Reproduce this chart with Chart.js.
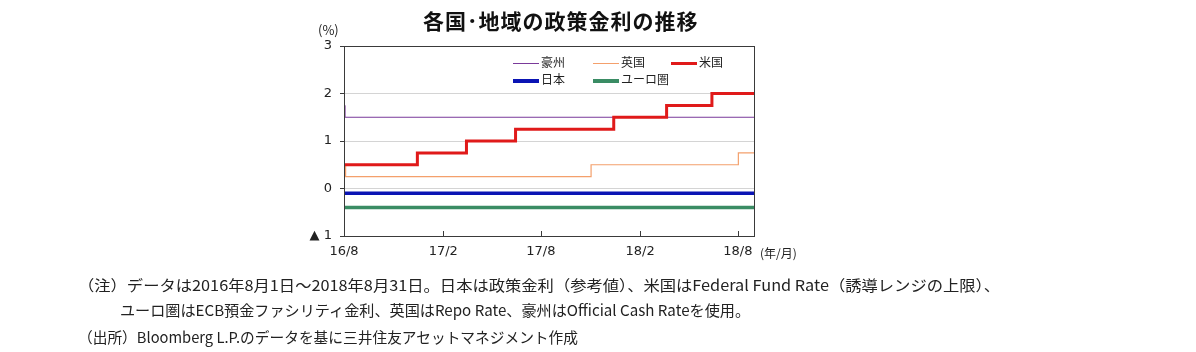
<!DOCTYPE html>
<html lang="ja">
<head>
<meta charset="UTF-8">
<title>各国・地域の政策金利の推移</title>
<script src="https://cdn.jsdelivr.net/npm/chart.js"></script>
<style>
  body { margin: 0; background: #fff; font-family: "Noto Sans CJK JP", "Noto Sans", sans-serif; color: #222; }
  #wrap { position: relative; width: 1196px; height: 352px; overflow: hidden; }
  #grafica { position: absolute; left: 0; top: 0; }
  .txt { position: absolute; white-space: nowrap; line-height: 1; }
  #title { left: 423px; top: 10px; font-size: 21px; font-weight: bold; color: #111; letter-spacing: 1px; }
  .note { font-size: 15px; transform-origin: left top; }
  .leg { position: absolute; font-size: 12px; line-height: 1; white-space: nowrap; }
  .leg i { display: inline-block; width: 26px; vertical-align: middle; margin-right: 2px; }
</style>
</head>
<body>
<div id="wrap">
  <canvas id="grafica" width="1196" height="352"></canvas>
  <div class="txt" id="title">各国･地域の政策金利の推移</div>
  <div class="txt" style="left:318px;top:23px;font-size:13px;">(%)</div>
  <div class="txt" style="left:760px;top:247px;font-size:12px;">(年/月)</div>
  <div id="legend"></div>
  <div class="txt note" data-w="922" style="left:78px;top:277px;">（注）データは2016年8月1日～2018年8月31日。日本は政策金利（参考値）、米国はFederal Fund Rate（誘導レンジの上限）、</div>
  <div class="txt note" data-w="630" style="left:120px;top:302px;">ユーロ圏はECB預金ファシリティ金利、英国はRepo Rate、豪州はOfficial Cash Rateを使用。</div>
  <div class="txt note" data-w="500" style="left:78px;top:329px;">（出所）Bloomberg L.P.のデータを基に三井住友アセットマネジメント作成</div>
</div>
<script>
// 政策金利（変更日と変更後の水準）
const startDate = '2016-08-01';
const endDate = '2018-08-31';

const ausDates = ['2016-08-01', '2016-08-03', '2018-08-31'];
const ausRates = [1.75, 1.5, 1.5];

const ukDates = ['2016-08-01', '2016-08-04', '2017-11-02', '2018-08-02', '2018-08-31'];
const ukRates = [0.5, 0.25, 0.5, 0.75, 0.75];

const usDates = ['2016-08-01', '2016-12-15', '2017-03-16', '2017-06-15', '2017-12-14', '2018-03-22', '2018-06-14', '2018-08-31'];
const usRates = [0.5, 0.75, 1.0, 1.25, 1.5, 1.75, 2.0, 2.0];

const jpDates = ['2016-08-01', '2018-08-31'];
const jpRates = [-0.1, -0.1];

const euDates = ['2016-08-01', '2018-08-31'];
const euRates = [-0.4, -0.4];

const xTickDates = ['2016-08-01', '2017-02-01', '2017-08-01', '2018-02-01', '2018-08-01'];
const xTickLabels = ['16/8', '17/2', '17/8', '18/2', '18/8'];
const yTickValues = [3, 2, 1, 0, -1];
const yTickLabels = ['3', '2', '1', '0', '▲ 1'];

const seriesNames = ['豪州', '英国', '米国', '日本', 'ユーロ圏'];
const seriesColors = ['#7a3a9a', '#f4a06c', '#e01a1a', '#0a14b4', '#3a8c64'];
const seriesWidths = [1, 1.2, 3, 3.5, 3.5];

// 日付 → 起点からの日数
function dayNum(s) {
  const p = s.split('-').map(Number);
  const b = startDate.split('-').map(Number);
  return (Date.UTC(p[0], p[1] - 1, p[2]) - Date.UTC(b[0], b[1] - 1, b[2])) / 86400000;
}
function toPoints(dates, rates) {
  return dates.map((d, i) => ({ x: dayNum(d), y: rates[i] }));
}

const allSeries = [
  toPoints(ausDates, ausRates),
  toPoints(ukDates, ukRates),
  toPoints(usDates, usRates),
  toPoints(jpDates, jpRates),
  toPoints(euDates, euRates)
];
const xTickPos = xTickDates.map(dayNum);

// 枠線と内向きの目盛り
const framePlugin = {
  id: 'frame',
  afterDraw(chart) {
    const { ctx, chartArea: a, scales } = chart;
    ctx.save();
    ctx.strokeStyle = '#3a3a3a';
    ctx.lineWidth = 1;
    ctx.strokeRect(Math.round(a.left) + 0.5, Math.round(a.top) + 0.5, Math.round(a.right - a.left), Math.round(a.bottom - a.top));
    ctx.beginPath();
    xTickPos.forEach(v => {
      const px = Math.round(scales.x.getPixelForValue(v)) + 0.5;
      ctx.moveTo(px, a.bottom);
      ctx.lineTo(px, a.bottom - 5);
    });
    ctx.stroke();
    ctx.restore();
  }
};

const ctx = document.getElementById('grafica').getContext('2d');
new Chart(ctx, {
  type: 'line',
  data: {
    datasets: allSeries.map((pts, i) => ({
      label: seriesNames[i],
      data: pts,
      borderColor: seriesColors[i],
      backgroundColor: seriesColors[i],
      borderWidth: seriesWidths[i],
      stepped: 'before',
      pointRadius: 0,
      fill: false
    })).reverse()
  },
  options: {
    responsive: false,
    animation: false,
    layout: { padding: { left: 300, right: 442, top: 46, bottom: 92 } },
    plugins: { legend: { display: false }, tooltip: { enabled: false } },
    scales: {
      x: {
        type: 'linear',
        min: 0,
        max: dayNum(endDate),
        afterBuildTicks: s => { s.ticks = xTickPos.map(v => ({ value: v })); },
        afterFit: s => { s.height = 24; },
        border: { display: false },
        grid: { display: false, drawTicks: false },
        ticks: {
          padding: 8,
          color: '#222',
          font: { family: 'DejaVu Sans', size: 13 },
          maxRotation: 0,
          autoSkip: false,
          callback: (v) => xTickLabels[xTickPos.indexOf(v)]
        }
      },
      y: {
        min: -1,
        max: 3,
        afterBuildTicks: s => { s.ticks = yTickValues.map(v => ({ value: v })); },
        afterFit: s => { s.width = 44; },
        border: { display: false },
        grid: {
          color: ctx => (ctx.tick && (ctx.tick.value === 3 || ctx.tick.value === -1)) ? 'rgba(0,0,0,0)' : '#d4d4d4',
          tickColor: '#3a3a3a',
          tickLength: 4
        },
        ticks: {
          padding: 8,
          color: '#222',
          font: { family: 'DejaVu Sans', size: 13 },
          callback: (v) => yTickLabels[yTickValues.indexOf(v)]
        }
      }
    }
  },
  plugins: [framePlugin]
});

// 凡例
const legPos = [[513, 56], [593, 56], [671, 56], [513, 73], [593, 73]];
const legend = document.getElementById('legend');
seriesNames.forEach((n, i) => {
  const d = document.createElement('div');
  d.className = 'leg';
  d.style.left = legPos[i][0] + 'px';
  d.style.top = legPos[i][1] + 'px';
  const h = Math.max(1, Math.round(seriesWidths[i]));
  d.innerHTML = '<i style="height:' + h + 'px;background:' + seriesColors[i] + '"></i>' + n;
  legend.appendChild(d);
});

// 注記の幅合わせ
document.querySelectorAll('.note').forEach(el => {
  const w = el.getBoundingClientRect().width;
  el.style.transform = 'scaleX(' + (Number(el.dataset.w) / w) + ')';
});
</script>
</body>
</html>
